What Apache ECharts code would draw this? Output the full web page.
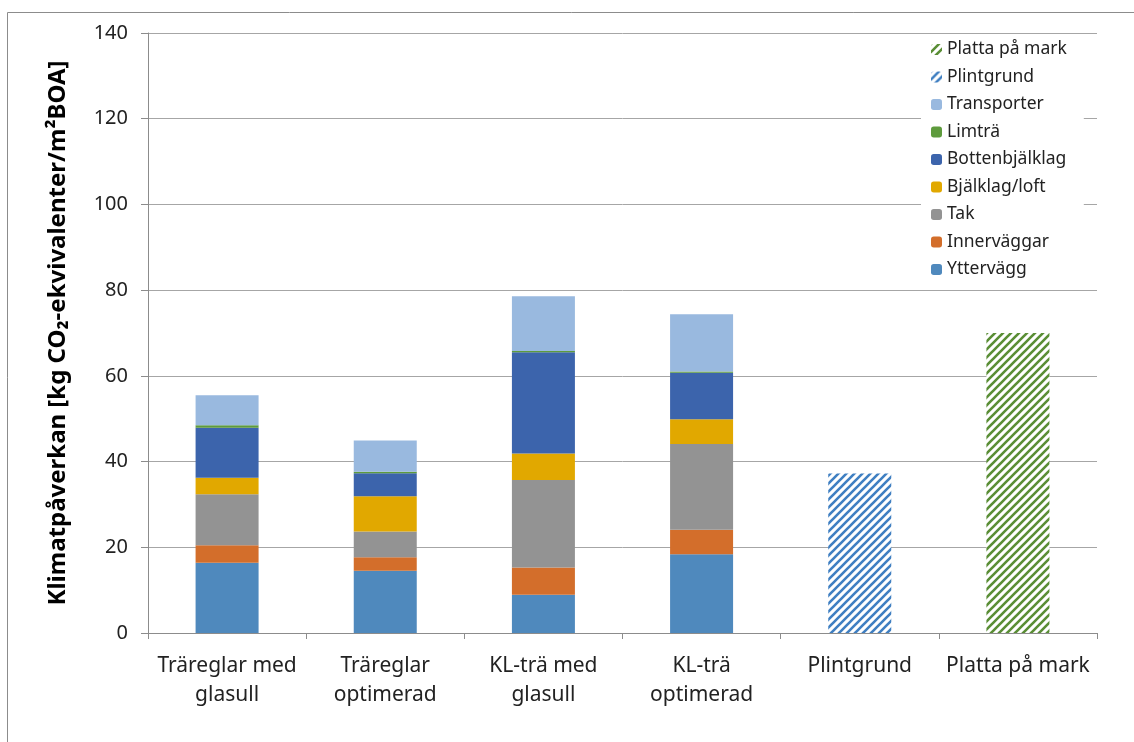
<!DOCTYPE html>
<html>
<head>
<meta charset="utf-8">
<script src="https://cdn.jsdelivr.net/npm/echarts@6/dist/echarts.min.js"></script>
<style>
  html, body { margin: 0; padding: 0; background: #fff; }
  #chart { width: 1134px; height: 742px; }
</style>
</head>
<body>
<div id="chart"></div>
<script>
// Climate impact per building variant, kg CO2-eq per m² BOA
const categories = ['Träreglar med\nglasull', 'Träreglar\noptimerad', 'KL-trä med\nglasull', 'KL-trä\noptimerad', 'Plintgrund', 'Platta på mark'];
const yTicks = [0, 20, 40, 60, 80, 100, 120, 140];

const yttervagg      = [16.4, 14.5, 8.9, 18.4, null, null];
const innervaggar    = [4.1, 3.2, 6.4, 5.7, null, null];
const tak            = [11.9, 6.0, 20.4, 20.0, null, null];
const bjalklagLoft   = [3.8, 8.2, 6.2, 5.8, null, null];
const bottenbjalklag = [11.7, 5.4, 23.6, 10.8, null, null];
const limtra         = [0.6, 0.3, 0.3, 0.3, null, null];
const transporter    = [7.0, 7.3, 12.8, 13.4, null, null];
const plintgrund     = [null, null, null, null, 37.2, null];
const plattaPaMark   = [null, null, null, null, null, 70.0];

const FONT = '"Noto Sans", "DejaVu Sans", sans-serif';

// Diagonal hatch fill for the foundation bars
function hatch(color) {
  const s = 8;
  const c = document.createElement('canvas');
  c.width = s; c.height = s;
  const g = c.getContext('2d');
  g.fillStyle = '#fff';
  g.fillRect(0, 0, s, s);
  g.strokeStyle = color;
  g.lineWidth = 2.6;
  g.beginPath();
  g.moveTo(-1, s + 1); g.lineTo(s + 1, -1);
  g.moveTo(-1, 1); g.lineTo(1, -1);
  g.moveTo(s - 1, s + 1); g.lineTo(s + 1, s - 1);
  g.stroke();
  return { image: c, repeat: 'repeat' };
}

const seriesDefs = [
  ['Yttervägg', yttervagg, '#4F89BD'],
  ['Innerväggar', innervaggar, '#D36E2B'],
  ['Tak', tak, '#939393'],
  ['Bjälklag/loft', bjalklagLoft, '#E1A800'],
  ['Bottenbjälklag', bottenbjalklag, '#3C64AC'],
  ['Limträ', limtra, '#5E9B3D'],
  ['Transporter', transporter, '#99B9DF'],
  ['Plintgrund', plintgrund, hatch('#3F7FC2')],
  ['Platta på mark', plattaPaMark, hatch('#5A8E35')]
];

const chart = echarts.init(document.getElementById('chart'), null, { renderer: 'canvas' });

chart.setOption({
  backgroundColor: '#fff',
  animation: false,
  textStyle: { fontFamily: FONT },
  graphic: [{
    type: 'rect',
    shape: { x: 7.5, y: 12.5, width: 1300, height: 900 },
    style: { fill: 'none', stroke: '#8c8c8c', lineWidth: 1 },
    silent: true
  }],
  grid: { left: 148, right: 37, top: 33, bottom: 109 },
  legend: {
    orient: 'vertical',
    left: 921,
    top: 37,
    data: seriesDefs.map(d => d[0]).reverse(),
    itemWidth: 11,
    itemHeight: 11,
    itemGap: 6.5,
    padding: [2, 17, 2, 10],
    backgroundColor: '#fff',
    textStyle: { fontFamily: FONT, fontSize: 17.5, color: '#222', lineHeight: 21 },
    selectedMode: false
  },
  xAxis: {
    type: 'category',
    data: categories,
    axisLine: { lineStyle: { color: '#8c8c8c', width: 1 } },
    axisTick: { show: true, length: 6, alignWithLabel: false, lineStyle: { color: '#8c8c8c' } },
    axisLabel: { fontFamily: FONT, fontSize: 21, color: '#222', lineHeight: 29.5, margin: 18, interval: 0 }
  },
  yAxis: {
    type: 'value',
    min: yTicks[0],
    max: yTicks[yTicks.length - 1],
    interval: 20,
    name: 'Klimatpåverkan [kg CO₂-ekvivalenter/m²BOA]',
    nameLocation: 'middle',
    nameGap: 78,
    nameRotate: 90,
    nameTextStyle: { fontFamily: FONT, fontSize: 24, fontWeight: 'bold', color: '#000' },
    axisLine: { show: true, lineStyle: { color: '#8c8c8c', width: 1 } },
    axisTick: { show: true, length: 7, lineStyle: { color: '#8c8c8c' } },
    axisLabel: { fontFamily: FONT, fontSize: 20, color: '#222', margin: 20 },
    splitLine: { lineStyle: { color: '#a6a6a6', width: 1 } }
  },
  series: seriesDefs.map(([name, data, color]) => ({
    name,
    type: 'bar',
    stack: 'total',
    data,
    barWidth: 63,
    itemStyle: { color },
    emphasis: { disabled: true }
  }))
});
</script>
</body>
</html>
